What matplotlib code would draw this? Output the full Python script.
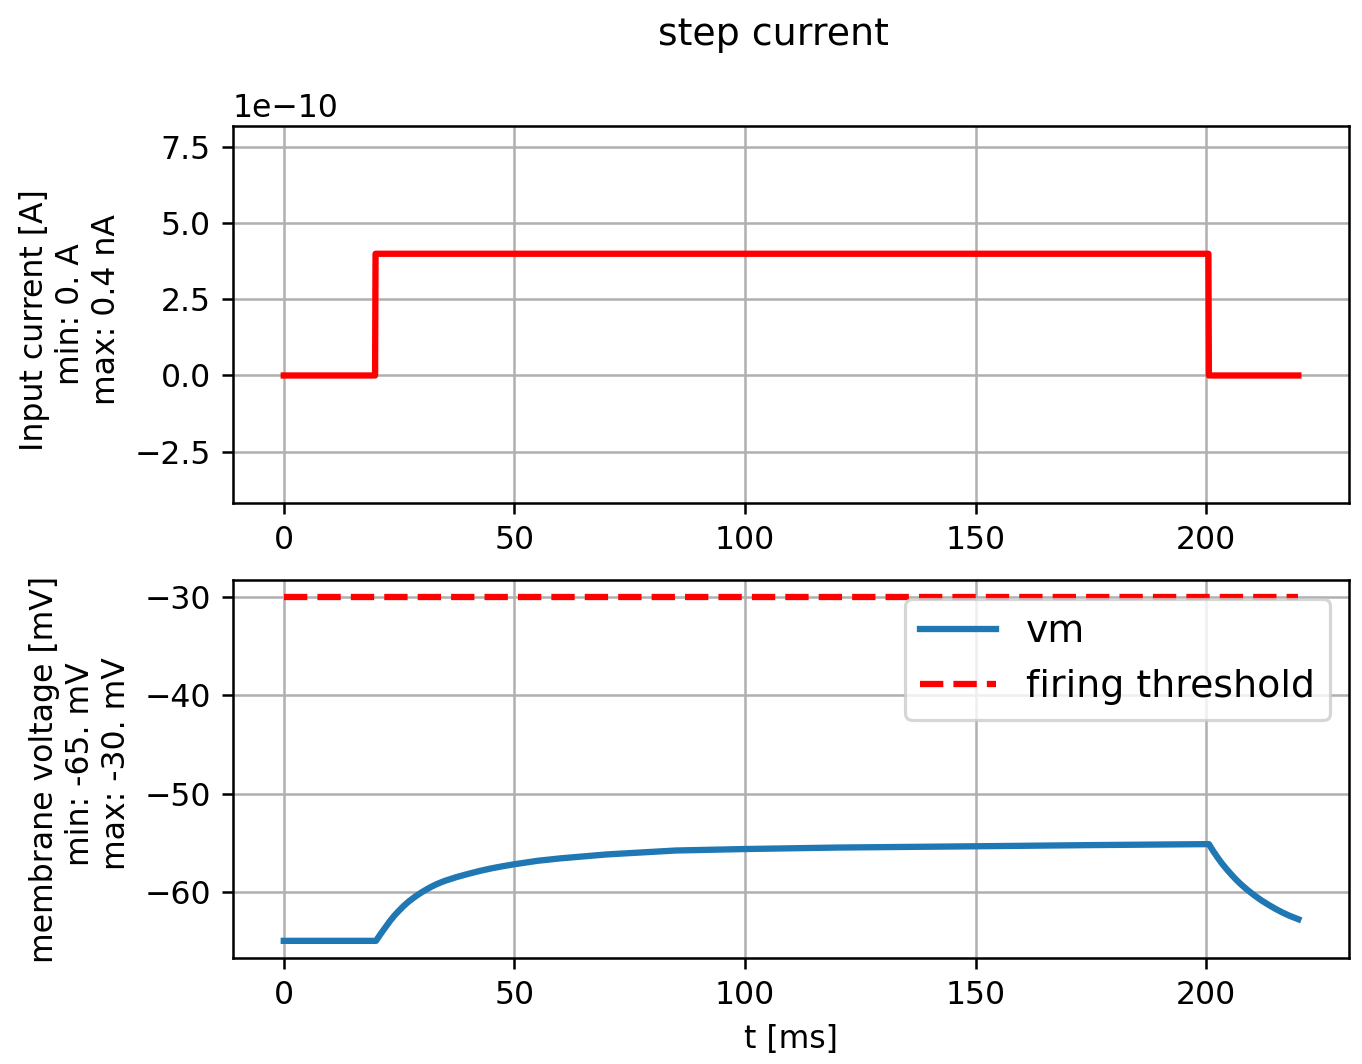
import matplotlib
matplotlib.use("Agg")
import matplotlib.pyplot as plt

# input current (step)
current_t = [0, 19.8, 19.9, 200.5, 200.6, 220]          # ms
current_a = [0, 0, 4e-10, 4e-10, 0, 0]                  # A

# membrane voltage trace
vm_t = [0, 20, 21, 22, 23, 24, 25, 26, 27, 28, 29, 30, 31, 32, 33, 34, 35,
        36, 37.5, 40, 42.5, 45, 47.5, 50, 55, 60, 70, 85, 100, 120, 150, 175,
        200.6, 201.5, 202.5, 203.5, 204.5, 205.5, 206.5, 207.5, 209, 210.5,
        212, 213.5, 215, 216.5, 218, 220]
vm_mv = [-65, -65, -64.3, -63.65, -63.0, -62.42, -61.92, -61.45, -61.03, -60.67,
         -60.33, -60.03, -59.75, -59.49, -59.26, -59.06, -58.88,
         -58.73, -58.5, -58.18, -57.88, -57.62, -57.4, -57.2, -56.85, -56.6,
         -56.2, -55.8, -55.65, -55.5, -55.37, -55.25,
         -55.15, -55.83, -56.52, -57.16, -57.73, -58.26, -58.76, -59.22, -59.83,
         -60.38, -60.88, -61.32, -61.73, -62.1, -62.43, -62.8]

threshold_mv = -30
legend_labels = ["vm", "firing threshold"]

DPI = 227
fig = plt.figure(figsize=(1362 / DPI, 1064 / DPI), dpi=DPI)

# oben: Strom
ax_c = fig.add_axes([0.1711, 0.527, 0.8194, 0.3546])
ax_c.plot(current_t, current_a, "r", lw=2)
i_max, i_min = max(current_a), min(current_a)
margin = 1.05 * (i_max - i_min)
ax_c.set_ylim([i_min - margin, i_max + margin])
ax_c.set_ylabel("Input current [A] \n min: 0. A \n max: 0.4 nA")
ax_c.grid()

# unten: Spannung
ax_v = fig.add_axes([0.1711, 0.0996, 0.8194, 0.3553])
ax_v.plot(vm_t, vm_mv, lw=2)
ax_v.plot([vm_t[0], vm_t[-1]], [threshold_mv, threshold_mv], "r--", lw=2)
ax_v.legend(legend_labels, fontsize=12, loc="upper right")
ax_v.set_xlabel("t [ms]")
ax_v.set_ylabel("membrane voltage [mV]\n min: -65. mV\n max: -30. mV")
ax_v.grid()

fig.suptitle("step current", x=773 / 1362, y=1 - 45 / 1064, va="baseline")

fig.savefig("out.png", dpi=DPI)
